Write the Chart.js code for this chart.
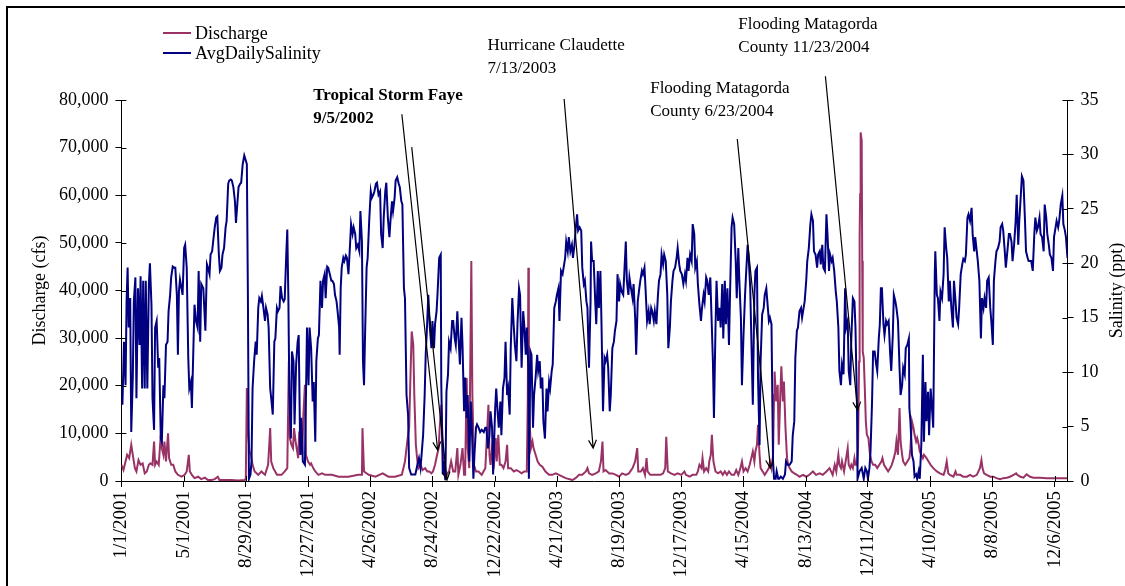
<!DOCTYPE html>
<html>
<head>
<meta charset="utf-8">
<script src="https://cdn.jsdelivr.net/npm/chart.js@4.4.0/dist/chart.umd.min.js"></script>
<style>
  html, body { margin: 0; padding: 0; background: #fff; }
</style>
</head>
<body>
<canvas id="chart" width="1125" height="586"></canvas>
<script>
const SERIF = '"Liberation Serif", "Times New Roman", serif';
Chart.defaults.font.family = SERIF;
Chart.defaults.color = '#000';

// day index counted from 1/1/2001
const dayOf = s => { const [m, d, y] = s.split('/').map(Number); return Math.round((Date.UTC(y, m - 1, d) - Date.UTC(2001, 0, 1)) / 864e5); };
const dateOf = n => { const t = new Date(Date.UTC(2001, 0, 1) + n * 864e5); return (t.getUTCMonth() + 1) + '/' + t.getUTCDate() + '/' + t.getUTCFullYear(); };

const xTickLabels = ['1/1/2001', '5/1/2001', '8/29/2001', '12/27/2001', '4/26/2002', '8/24/2002', '12/22/2002', '4/21/2003',
  '8/19/2003', '12/17/2003', '4/15/2004', '8/13/2004', '12/11/2004', '4/10/2005', '8/8/2005', '12/6/2005'];
const lastDay = dayOf('12/31/2005');

// Average daily salinity (ppt)
const salinityDays = [0,2,5,8,10,12,14,17,19,22,24,27,29,32,35,37,40,42,45,47,50,53,55,58,60,63,65,68,71,73,76,78,81,83,86,89,91,94,96,99,102,104,107,109,111,113,116,118,121,123,126,129,131,134,136,139,141,144,147,149,152,154,158,162,165,167,170,172,175,177,180,183,185,188,190,193,195,198,201,203,206,208,211,213,216,219,221,224,226,229,231,234,237,239,242,244,246,249,251,253,256,259,261,264,266,269,271,274,277,279,282,284,287,289,292,295,297,300,302,305,307,310,313,315,318,320,322,324,327,329,332,334,337,340,342,345,347,350,354,
  358,361,363,366,369,371,374,376,379,381,384,387,389,392,394,397,399,402,405,407,410,412,415,417,420,421,423,425,428,430,433,435,438,441,443,446,448,451,453,456,459,461,464,466,468,470,473,475,478,481,483,486,488,491,493,496,499,501,504,506,509,511,514,517,519,522,524,527,529,532,535,537,540,542,545,547,550,553,555,559,563,567,571,574,577,580,582,585,587,590,592,595,598,600,603,605,608,610,613,616,617,620,622,625,627,630,632,635,638,640,643,645,648,650,653,656,658,661,663,666,668,671,674,676,679,681,684,686,689,692,695,699,702,704,707,710,712,715,717,721,
  723,726,728,731,733,736,739,741,744,746,749,751,754,757,759,762,764,767,769,772,775,777,780,782,785,786,789,791,794,796,799,802,804,807,809,812,814,817,820,822,825,827,830,832,835,838,840,843,845,848,851,853,856,858,861,863,866,869,871,874,876,879,881,884,887,889,892,894,897,899,902,905,906,908,911,914,916,919,921,924,926,929,932,934,937,939,942,944,947,950,952,955,957,960,962,965,968,970,973,975,978,980,983,986,988,991,993,996,999,1001,1004,1006,1009,1011,1014,1017,1019,1022,1024,1027,1029,1032,1035,1037,1040,1042,1045,1047,1050,1053,1055,1058,1060,1063,1065,1068,1071,1073,1076,1078,1081,1083,
  1084,1087,1089,1092,1094,1097,1100,1102,1105,1107,1110,1112,1115,1118,1120,1123,1125,1128,1130,1133,1136,1138,1141,1143,1146,1148,1151,1154,1156,1159,1161,1164,1166,1169,1172,1174,1177,1179,1182,1185,1187,1190,1192,1195,1197,1200,1203,1205,1208,1210,1213,1215,1218,1221,1223,1226,1228,1231,1233,1236,1239,1241,1244,1246,1249,1251,1254,1257,1259,1262,1264,1267,1269,1272,1276,1280,1282,1285,1289,1293,1295,1298,1300,1303,1305,1308,1311,1313,1316,1318,1321,1323,1326,1329,1331,1334,1336,1339,1342,1344,1347,1349,1352,1354,1357,1360,1362,1365,1367,1370,1372,1375,1378,1380,1383,1385,1388,1390,1393,1396,1398,1401,1403,1406,1408,1411,1414,1416,1419,1420,1424,1428,1432,1435,
  1438,1440,1443,1445,1448,1450,1453,1456,1458,1461,1463,1465,1467,1470,1472,1475,1477,1480,1483,1485,1488,1490,1493,1495,1498,1501,1503,1506,1508,1511,1513,1516,1519,1520,1522,1525,1528,1530,1533,1535,1538,1540,1543,1546,1548,1551,1553,1556,1558,1561,1564,1566,1569,1570,1573,1575,1578,1580,1583,1586,1588,1591,1593,1596,1598,1601,1604,1606,1609,1611,1614,1616,1619,1622,1624,1627,1629,1632,1634,1637,1640,1642,1645,1647,1650,1652,1655,1658,1660,1663,1665,1668,1670,1673,1676,1678,1681,1683,1686,1688,1691,1694,1696,1699,1701,1704,1706,1709,1712,1714,1717,1719,1722,1725,1727,1730,1732,1735,1737,1740,1743,1745,1748,1750,1753,1755,1758,1761,1763,1766,1768,1771,1773,1776,1779,1781,1784,1786,1789,1791,1794,1797,1799,1802,1804,1807,1809,1812,1815,1817,1820,1822,1825];
const salinityPpt = [8.8,7.0,12.8,8.8,16.5,19.6,14.1,16.8,4.5,9.5,16.5,18.7,7.6,17.7,12.5,18.8,8.5,18.4,8.5,18.4,8.5,18.1,20.0,16.2,7.6,4.7,14.1,14.7,10.4,11.3,3.9,3.6,8.8,7.6,12.5,12.8,15.6,17.1,18.7,19.7,19.6,19.6,17.1,11.6,17.4,18.5,17.7,17.1,21.4,21.7,19.6,11.3,8.5,9.1,6.7,12.5,16.2,14.7,14.1,19.3,12.8,18.1,17.7,13.8,19.9,19.6,19.0,20.8,21.1,22.0,23.3,24.2,24.3,20.8,19.3,19.6,20.8,21.4,23.3,23.9,27.3,27.6,27.7,27.6,27.0,25.7,23.7,25.7,27.0,27.3,27.4,29.1,29.9,29.6,29.1,17.1,0.2,0.6,1.8,8.5,11.0,12.8,11.6,15.9,16.8,16.5,17.0,15.9,14.7,15.9,15.3,14.1,8.5,7.6,6.1,12.8,13.1,15.9,15.6,15.9,17.9,16.8,16.5,16.7,20.8,23.1,17.1,7.9,3.9,11.9,11.0,5.2,10.7,12.8,13.4,2.4,5.8,1.8,1.5,
  14.1,8.8,14.1,12.2,7.3,9.1,3.6,11.0,13.1,13.4,18.4,15.9,18.4,19.0,16.8,19.7,19.6,19.0,18.4,18.4,18.1,17.1,16.5,15.6,14.1,11.6,17.7,19.6,20.5,20.2,20.7,20.5,19.0,21.7,23.6,22.7,23.3,22.7,21.4,21.7,21.1,24.8,22.0,11.0,8.8,13.4,19.6,20.5,23.9,26.6,26.0,26.3,26.6,27.3,27.4,26.3,26.6,22.7,21.4,24.2,26.6,27.4,24.2,22.4,23.9,25.7,24.8,26.0,27.6,27.9,27.3,27.0,25.7,25.4,17.7,16.8,7.9,6.1,1.2,0.6,0.6,0.6,1.5,2.1,1.2,3.0,4.2,7.9,11.6,14.7,17.1,14.1,12.2,14.7,12.2,14.4,15.6,17.4,20.5,20.8,9.1,0.6,1.8,0.1,8.2,9.8,12.8,12.2,14.7,14.7,13.1,12.5,15.6,13.4,10.7,15.0,12.5,6.4,9.5,5.8,7.9,1.8,7.3,4.9,0.2,2.4,4.9,5.2,4.9,4.5,4.7,4.5,4.9,4.9,3.0,4.2,6.4,4.9,0.6,6.7,
  8.5,6.1,4.9,7.3,4.2,8.5,9.5,12.8,7.9,8.5,6.1,12.2,16.8,14.1,12.5,11.0,14.4,17.7,17.1,10.4,15.6,14.4,11.6,14.1,10.4,0.2,11.9,11.6,4.9,7.9,9.5,11.6,10.1,11.0,8.5,9.5,5.5,3.9,8.5,6.4,9.1,8.5,10.1,10.7,15.9,16.5,17.1,17.7,14.7,19.3,19.0,19.6,20.5,22.0,21.1,22.4,21.1,21.7,20.5,21.7,23.0,24.5,23.0,23.3,23.0,19.6,18.1,18.4,16.5,15.9,10.4,16.5,22.0,20.2,20.2,16.5,14.4,19.3,15.9,19.3,14.7,6.4,11.3,11.0,11.6,10.4,6.4,7.9,12.2,12.8,13.8,14.7,19.0,16.5,18.1,17.4,17.1,19.0,22.0,18.4,17.1,18.7,17.7,16.8,18.1,15.0,11.6,16.5,17.7,18.4,19.3,19.0,19.6,17.7,14.7,15.6,14.4,15.9,15.6,14.7,15.6,14.4,17.1,18.4,19.0,20.8,19.9,20.8,20.2,17.1,12.2,14.1,16.5,18.4,19.3,19.6,20.5,21.4,19.9,19.3,19.0,18.4,
  18.1,19.0,18.4,20.5,19.3,20.8,20.2,23.6,22.7,19.6,20.2,18.1,16.2,14.7,15.9,17.1,16.5,18.7,18.4,17.1,18.7,15.6,11.0,5.8,14.1,18.4,14.7,15.9,14.1,18.1,13.1,18.4,14.4,17.7,12.5,17.1,23.3,24.2,23.6,20.2,16.8,21.4,18.4,15.0,8.8,13.4,17.1,19.0,21.7,20.5,17.7,13.4,7.0,17.1,19.3,19.6,9.5,3.3,11.0,15.3,15.9,17.1,17.7,16.5,14.7,15.0,14.4,1.8,0.2,0.2,0.9,0.2,0.2,0.4,0.2,0.6,1.8,1.5,1.5,1.8,4.2,5.5,11.3,13.8,14.1,15.6,15.9,15.0,15.9,16.5,18.4,20.2,21.4,23.6,24.5,23.9,21.1,20.8,19.6,20.8,21.1,19.9,21.7,19.6,19.3,24.5,22.7,19.3,20.8,20.2,20.5,19.3,17.4,16.5,14.1,10.1,8.8,10.7,9.8,17.7,14.1,14.7,10.1,8.8,13.1,16.8,16.5,14.1,6.7,0.2,0.9,1.2,0.2,1.2,
  0.9,0.2,1.2,2.7,7.3,11.9,11.9,10.7,10.1,13.1,14.4,17.7,17.7,14.4,13.4,14.7,14.4,14.7,11.6,10.1,13.4,17.1,16.5,15.9,14.7,10.4,7.9,8.8,10.4,9.8,12.2,12.5,13.1,6.7,5.5,2.4,1.8,0.4,0.6,0.2,0.9,0.2,3.3,11.6,3.6,9.1,5.5,8.2,4.2,8.5,6.4,4.9,19.0,21.1,17.1,16.8,14.7,17.4,16.8,19.0,23.3,21.4,20.5,16.5,18.4,15.9,14.1,18.4,16.5,15.0,14.4,15.9,19.0,19.9,20.4,20.2,20.8,24.2,24.5,23.9,25.1,22.7,21.1,22.4,21.1,20.2,18.4,13.1,16.8,15.9,16.8,15.9,18.4,18.7,15.9,14.7,12.5,18.4,20.2,21.1,21.4,22.0,23.3,23.6,23.0,21.1,19.6,21.1,22.7,22.7,22.0,20.2,21.7,23.9,26.3,21.7,23.9,26.3,28.0,27.6,23.9,21.1,20.5,20.2,20.2,20.2,19.3,22.7,24.2,23.0,23.3,24.2,22.7,22.4,21.1,25.4,24.2,22.7,21.7,20.8,20.5,19.3,22.4,23.3,23.9,23.3,23.9,25.4,26.2,23.6,23.0,22.4,20.5];

// Discharge (cfs)
const dischargeDays = [0,4,8,11,15,19,22,26,29,33,37,41,45,49,53,56,60,63,65,68,72,76,78,81,83,86,90,92,96,100,104,109,116,122,126,130,132,136,141,148,154,161,167,174,180,186,189,199,212,225,238,240,242,244,247,250,253,257,264,270,277,283,287,289,293,300,309,315,320,323,325,328,331,333,336,338,341,343,346,349,351,354,356,360,364,
  366,370,374,380,387,393,406,419,438,457,464,465,468,477,490,504,515,528,541,547,550,553,555,558,560,563,565,568,571,573,577,581,586,590,594,598,601,605,609,612,614,617,620,622,625,629,632,636,640,644,648,650,654,658,661,663,666,668,671,675,677,680,684,689,695,702,708,710,712,
  715,719,722,724,727,730,733,737,741,744,746,751,757,762,767,772,777,782,784,785,786,788,790,793,795,799,803,807,812,818,825,831,838,844,851,857,870,876,883,889,896,899,902,908,915,921,925,928,930,934,941,947,954,960,966,973,979,986,991,995,997,1002,1006,1010,1013,1015,1020,1027,1033,1040,1045,1049,1051,1054,1060,1067,1073,1080,1086,
  1089,1096,1102,1109,1112,1115,1119,1121,1124,1128,1132,1134,1137,1139,1142,1146,1151,1156,1160,1164,1168,1172,1177,1182,1186,1190,1194,1197,1200,1204,1208,1212,1215,1218,1221,1223,1226,1228,1231,1233,1237,1241,1245,1249,1251,1254,1257,1259,1260,1263,1266,1268,1271,1273,1276,1278,1281,1284,1286,1289,1293,1298,1303,1308,1315,1321,1327,1334,1340,1347,1353,1360,1366,1372,1376,1379,1383,1385,1388,1390,1394,1398,1401,1403,1406,1408,1411,1414,1416,1419,1421,1423,1424,1425,1426,1428,1429,1430,1432,1434,1436,
  1438,1441,1444,1447,1450,1454,1458,1462,1466,1468,1471,1475,1479,1483,1486,1490,1493,1495,1498,1501,1503,1506,1508,1512,1516,1520,1522,1525,1528,1530,1533,1535,1538,1540,1543,1546,1548,1551,1553,1557,1561,1566,1573,1579,1586,1589,1592,1595,1598,1605,1609,1611,1618,1624,1631,1637,1643,1650,1656,1659,1661,1664,1669,1676,1682,1688,1695,1701,1708,1714,1721,1726,1728,1734,1740,1746,1753,1759,1772,1785,1798,1811,1824];
const dischargeCfs = [3400,2300,4100,5500,4800,7600,5500,2700,2000,4400,3400,3700,1600,2000,3400,3700,3400,8300,3400,4100,3400,9700,6900,5500,8300,4100,10000,4800,3400,3400,2000,1300,900,1300,2000,5500,2000,1300,600,900,400,700,200,200,400,900,200,200,200,100,200,600,19500,11100,6200,5500,3400,2000,1300,2000,1300,3400,11100,4100,2700,1300,1300,2000,2700,25100,9000,7600,6900,11100,8300,6900,4800,10400,7600,5500,13900,20200,5500,4100,3400,
  3700,2700,2000,1300,1600,1300,1300,900,900,1300,1300,11100,2000,1300,900,1600,900,900,1300,4100,6900,9700,11100,23700,31400,28600,18100,7600,4100,2700,3400,2300,2700,2000,2000,1600,2000,3400,5500,6900,11100,16000,6900,2700,600,1600,2000,4100,2000,2000,6900,1300,3400,6900,1300,1300,21600,6900,2700,46200,18100,3400,2000,2000,1300,2700,16000,5500,3400,
  6900,4100,9000,4100,9700,3400,3400,2700,4100,7600,2700,2700,2000,2300,2000,1600,2000,2000,18100,44800,25100,11100,6900,8300,6900,5500,4100,3400,3000,2000,1300,1300,1600,1300,900,600,200,600,1300,1300,2000,2700,1600,1300,1600,2000,4100,8300,2000,2300,1600,1600,1300,900,1600,1300,1600,2700,4100,6900,2000,2000,2700,1300,4800,2000,1300,1300,1300,1300,1600,2700,9300,2000,1600,1300,1600,1300,2000,
  1300,900,1300,1300,2000,3400,2700,4800,2000,2700,2000,4100,5500,9700,4100,2000,1600,2000,1300,2000,1300,2000,1300,1300,2300,1300,2700,4100,2000,2700,2000,3400,4800,6200,4100,6200,7600,11800,5500,2700,2000,1300,2000,2700,4100,2700,5500,18100,23000,16700,20200,7600,18100,24100,16700,20900,11100,4800,3400,2700,2000,1600,1300,900,1300,900,1300,2000,1300,1600,1300,2000,2700,1300,3400,2000,5500,3400,2700,4100,2000,4800,6900,3400,2700,3400,2700,4800,3400,3400,6900,25100,51100,60200,73200,71500,46200,27200,25800,19500,12500,
  9700,9000,5500,4100,3400,3400,2700,3400,4100,4800,3400,2700,2000,2700,3400,4800,6200,8300,5500,15300,8300,5500,4100,3400,4100,4800,6900,12500,11100,9700,8300,9000,7600,6200,5500,4800,5500,5100,4800,4100,3400,2700,2000,1600,1300,2300,4100,1600,1300,900,2000,1300,1300,900,900,1300,900,1300,2700,4400,2700,1600,1300,900,900,600,400,600,700,900,1300,1600,1300,900,700,1400,900,700,700,600,600,600,600];

// text notes with arrows: anchor [day, cfs], arrows [fromDay, fromCfs, toDay, toCfs]
const notes = [
  { lines: ['Tropical Storm Faye', '9/5/2002'], bold: true, at: [370, 81000], arrows: [[541, 77000, 610, 6500], [560, 70100, 628, 200]] },
  { lines: ['Hurricane Claudette', '7/13/2003'], at: [706, 91400], arrows: [[854, 80200, 910, 6900]] },
  { lines: ['Flooding Matagorda', 'County 6/23/2004'], at: [1020, 82500], arrows: [[1188, 71800, 1252, 2700]] },
  { lines: ['Flooding Matagorda', 'County 11/23/2004'], at: [1190, 95800], arrows: [[1358, 85000, 1420, 14900]] }
];

const DIS_COLOR = '#993366';
const SAL_COLOR = '#000080';

const pagePlugin = {
  id: 'page',
  beforeDraw(chart) {
    const c = chart.ctx;
    c.save();
    c.fillStyle = '#fff';
    c.fillRect(0, 0, chart.width, chart.height);
    c.strokeStyle = '#000';
    c.lineWidth = 2;
    c.strokeRect(7, 7, chart.width + 40, chart.height + 40);
    c.restore();
  },
  afterDraw(chart) {
    const c = chart.ctx;
    const a = chart.chartArea;
    const { x, y, y2 } = chart.scales;
    c.save();
    c.strokeStyle = '#000';
    c.lineWidth = 1;
    c.beginPath();
    x.ticks.forEach(t => { const p = Math.round(x.getPixelForValue(t.value)) + 0.5; c.moveTo(p, a.bottom); c.lineTo(p, a.bottom - 5); });
    y.ticks.forEach(t => { const p = Math.round(y.getPixelForValue(t.value)) + 0.5; c.moveTo(a.left, p); c.lineTo(a.left + 5, p); });
    y2.ticks.forEach(t => { const p = Math.round(y2.getPixelForValue(t.value)) + 0.5; c.moveTo(a.right, p); c.lineTo(a.right - 5, p); });
    c.stroke();

    // right axis title
    c.font = '18px ' + SERIF;
    c.fillStyle = '#000';
    c.textAlign = 'center';
    c.textBaseline = 'middle';
    c.translate(a.right + 50, (a.top + a.bottom) / 2);
    c.rotate(-Math.PI / 2);
    c.fillText('Salinity (ppt)', 0, 0);
    c.restore();

    // legend
    c.save();
    c.font = '18px ' + SERIF;
    c.textBaseline = 'middle';
    c.fillStyle = '#000';
    [['Discharge', DIS_COLOR], ['AvgDailySalinity', SAL_COLOR]].forEach(([label, col], i) => {
      const ly = 33 + i * 20;
      c.strokeStyle = col;
      c.lineWidth = 2;
      c.beginPath(); c.moveTo(163, ly); c.lineTo(191, ly); c.stroke();
      c.fillText(label, 195, ly + 1);
    });
    c.restore();

    // notes and arrows
    c.save();
    notes.forEach(n => {
      c.font = (n.bold ? 'bold ' : '') + '17px ' + SERIF;
      c.fillStyle = '#000';
      c.textAlign = 'left';
      c.textBaseline = 'middle';
      const tx = x.getPixelForValue(n.at[0]);
      const ty = y.getPixelForValue(n.at[1]);
      n.lines.forEach((t, i) => c.fillText(t, tx, ty + i * 23));
      c.strokeStyle = '#000';
      c.lineWidth = 1.2;
      n.arrows.forEach(([d0, v0, d1, v1]) => {
        const x0 = x.getPixelForValue(d0), y0 = y.getPixelForValue(v0);
        const x1 = x.getPixelForValue(d1), y1 = y.getPixelForValue(v1);
        const ang = Math.atan2(y1 - y0, x1 - x0);
        c.beginPath();
        c.moveTo(x0, y0); c.lineTo(x1, y1);
        c.moveTo(x1 - 9 * Math.cos(ang - 0.45), y1 - 9 * Math.sin(ang - 0.45));
        c.lineTo(x1, y1);
        c.lineTo(x1 - 9 * Math.cos(ang + 0.45), y1 - 9 * Math.sin(ang + 0.45));
        c.stroke();
      });
    });
    c.restore();
  }
};

new Chart(document.getElementById('chart'), {
  type: 'line',
  data: {
    datasets: [
      {
        label: 'Discharge',
        data: dischargeDays.map((d, i) => ({ x: d, y: dischargeCfs[i] })),
        borderColor: DIS_COLOR,
        borderWidth: 2,
        pointRadius: 0,
        yAxisID: 'y',
        order: 2
      },
      {
        label: 'AvgDailySalinity',
        data: salinityDays.map((d, i) => ({ x: d, y: salinityPpt[i] })),
        borderColor: SAL_COLOR,
        borderWidth: 2,
        pointRadius: 0,
        yAxisID: 'y2',
        order: 1
      }
    ]
  },
  options: {
    responsive: false,
    devicePixelRatio: 1,
    animation: false,
    layout: { padding: { top: 100, left: 20, right: 0, bottom: 0 } },
    plugins: { legend: { display: false }, tooltip: { enabled: false } },
    scales: {
      x: {
        type: 'linear',
        min: 0,
        max: lastDay,
        afterBuildTicks: s => { s.ticks = xTickLabels.map(l => ({ value: dayOf(l) })); },
        afterFit: s => { s.height = 105; },
        ticks: {
          autoSkip: false,
          minRotation: 90,
          maxRotation: 90,
          padding: 4,
          font: { size: 19 },
          callback: v => dateOf(v)
        },
        grid: { drawOnChartArea: false, tickLength: 6, color: '#000' },
        border: { color: '#000', width: 1 }
      },
      y: {
        position: 'left',
        min: 0,
        max: 80000,
        afterFit: s => { s.width = 101.4; },
        ticks: { stepSize: 10000, padding: 7, font: { size: 18 }, callback: v => v.toLocaleString('en-US') },
        grid: { drawOnChartArea: false, tickLength: 6, color: '#000' },
        border: { color: '#000', width: 1 },
        title: { display: true, text: 'Discharge (cfs)', font: { size: 18 }, padding: { top: 9, bottom: 0 } }
      },
      y2: {
        position: 'right',
        min: 0,
        max: 35,
        afterFit: s => { s.width = 57.5; },
        ticks: { stepSize: 5, padding: 7, font: { size: 18 } },
        grid: { drawOnChartArea: false, tickLength: 6, color: '#000' },
        border: { color: '#000', width: 1 }
      }
    }
  },
  plugins: [pagePlugin]
});
</script>
</body>
</html>
